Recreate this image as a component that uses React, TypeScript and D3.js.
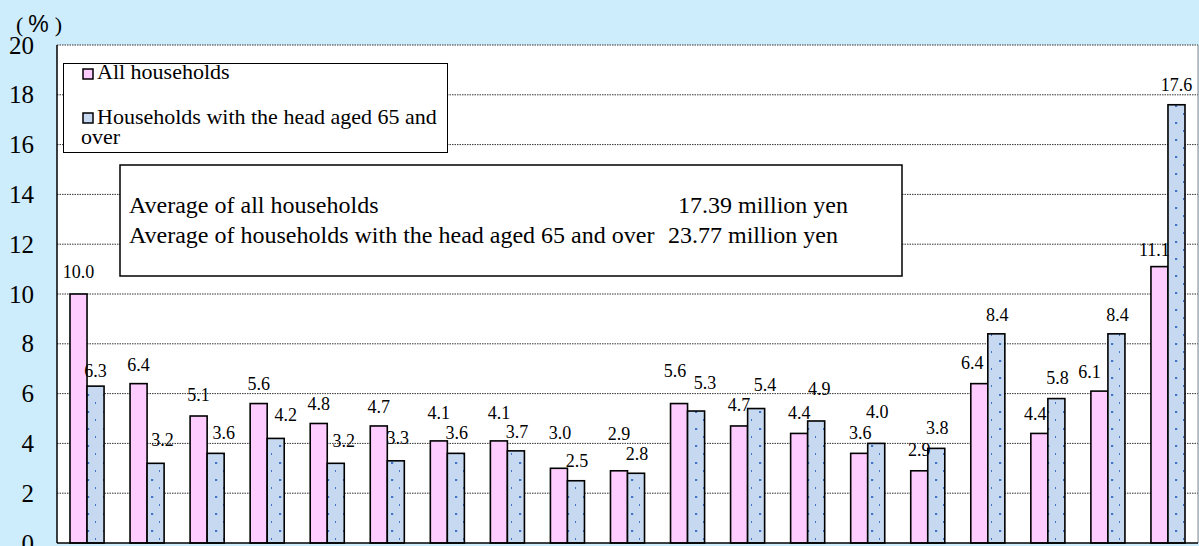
import React from "react";
import * as d3 from "d3";

// Savings classes (million yen)
const categories = [
  "<1", "1-2", "2-3", "3-4", "4-5", "5-6", "6-7", "7-8", "8-9", "9-10",
  "10-12", "12-14", "14-16", "16-18", "18-20", "20-25", "25-30", "30-40", "40+",
];
const seriesNames = ["All households", "Households with the head aged 65 and over"];
const allHouseholds = [10.0, 6.4, 5.1, 5.6, 4.8, 4.7, 4.1, 4.1, 3.0, 2.9, 5.6, 4.7, 4.4, 3.6, 2.9, 6.4, 4.4, 6.1, 11.1];
const elderlyHouseholds = [6.3, 3.2, 3.6, 4.2, 3.2, 3.3, 3.6, 3.7, 2.5, 2.8, 5.3, 5.4, 4.9, 4.0, 3.8, 8.4, 5.8, 8.4, 17.6];
const yTicks = [0, 2, 4, 6, 8, 10, 12, 14, 16, 18, 20];
const averageLines = [
  { text: "Average of all households", value: "17.39 million yen" },
  { text: "Average of households with the head aged 65 and over", value: "23.77 million yen" },
];

// hand-placed data label nudges: [dx, dy] of label centre from bar top centre
const allLabelNudge: [number, number][] = [
  [0, -22], [0, -19], [0, -21], [0, -20], [0, -19], [0, -19], [0, -28], [0, -28], [1, -35], [0, -37],
  [-4, -33], [0, -21], [0, -20], [1, -20], [0, -21], [-7, -21], [-4, -19], [-10, -19], [-5, -17],
];
const elderlyLabelNudge: [number, number][] = [
  [0, -15], [7, -23], [8, -20], [10, -23], [8, -22], [2, -23], [1, -20], [1, -19], [1, -20], [1, -19],
  [9, -28], [9, -24], [3, -32], [1, -31], [1, -20], [1, -19], [1, -21], [1, -19], [0, -20],
];

const W = 1199;
const H = 546;
const plot = { left: 57, right: 1198, top: 45, bottom: 543 };
const SERIF = "Liberation Serif, Tinos, DejaVu Serif, serif";
const SANS = "Liberation Sans, Arial, sans-serif";
const PINK = "#ffccff";
const BLUE = "#c6d9f1";

export default function App() {
  const x = d3.scaleBand<string>().domain(categories).range([plot.left, plot.right]).padding(0);
  const inner = d3
    .scaleBand<number>()
    .domain([0, 1])
    .range([13, x.bandwidth() - 13])
    .padding(0);
  const y = d3.scaleLinear().domain([0, 20]).range([plot.bottom, plot.top]);
  const bw = inner.bandwidth();

  const series = [
    { values: allHouseholds, fill: PINK, nudge: allLabelNudge },
    { values: elderlyHouseholds, fill: "url(#dots)", nudge: elderlyLabelNudge },
  ];

  const serif = { fontFamily: SERIF };

  return (
    <svg
      width={W}
      height={H}
      style={{ position: "absolute", left: 0, top: 0, display: "block", fontFamily: SERIF }}
    >
      <defs>
        <pattern id="dots" patternUnits="userSpaceOnUse" width={16} height={17} x={0} y={0}>
          <rect width={16} height={17} fill={BLUE} />
          <rect x={7} y={3} width={2.2} height={2} fill="#3f74c8" />
          <rect x={15} y={11} width={2.2} height={2} fill="#3f74c8" />
        </pattern>
      </defs>
      <rect x={0} y={0} width={W} height={H} fill="#cdedfd" />
      <rect
        x={plot.left}
        y={plot.top}
        width={plot.right - plot.left}
        height={plot.bottom - plot.top}
        fill="#ffffff"
      />

      {/* gridlines */}
      {yTicks
        .filter((t) => t > 0)
        .map((t) => (
          <line
            key={t}
            x1={plot.left}
            x2={plot.right}
            y1={y(t)}
            y2={y(t)}
            stroke="#333"
            strokeWidth={1}
            strokeDasharray="1.5,1"
          />
        ))}
      <line x1={plot.right} x2={plot.right} y1={plot.top} y2={plot.bottom} stroke="#888" strokeWidth={1} />

      {/* y tick labels */}
      {yTicks.map((t) => (
        <text key={t} x={34} y={y(t) + 8.5} textAnchor="end" style={serif} fontSize={25} fill="#000">
          {t}
        </text>
      ))}

      {/* unit label */}
      <text x={16} y={32} style={serif} fontSize={22}>
        (
        <tspan dx={5} style={{ fontFamily: SANS }} fontSize={23}>%</tspan>
        <tspan dx={6}>)</tspan>
      </text>

      {/* bars */}
      {series.map((s, si) =>
        categories.map((c, i) => {
          const bx = (x(c) as number) + (inner(si) as number);
          const top = y(s.values[i]);
          return (
            <rect
              key={`${si}-${i}`}
              x={bx}
              y={top}
              width={bw}
              height={plot.bottom - top}
              fill={s.fill}
              stroke="#000"
              strokeWidth={1.6}
            />
          );
        })
      )}

      {/* data labels */}
      {series.map((s, si) =>
        categories.map((c, i) => {
          const cx = (x(c) as number) + (inner(si) as number) + bw / 2 + s.nudge[i][0];
          const cy = y(s.values[i]) + s.nudge[i][1];
          return (
            <text
              key={`l${si}-${i}`}
              x={cx}
              y={cy + 6}
              textAnchor="middle"
              style={serif}
              fontSize={18}
              fill="#000"
            >
              {s.values[i].toFixed(1)}
            </text>
          );
        })
      )}

      {/* axes */}
      <line x1={plot.left} x2={plot.left} y1={plot.top} y2={plot.bottom} stroke="#000" strokeWidth={1.5} />
      <line x1={plot.left} x2={plot.right} y1={plot.bottom} y2={plot.bottom} stroke="#000" strokeWidth={1.5} />

      {/* legend */}
      <rect x={63.5} y={63.5} width={384} height={89} fill="#fff" stroke="#000" strokeWidth={1} />
      <rect x={83} y={69} width={10} height={10} fill={PINK} stroke="#000" strokeWidth={1.5} />
      <text x={97} y={79} style={serif} fontSize={22}>{seriesNames[0]}</text>
      <rect x={83} y={113} width={10} height={10} fill={BLUE} stroke="#000" strokeWidth={1.5} />
      <text x={97} y={124} style={serif} fontSize={22}>Households with the head aged 65 and</text>
      <text x={81} y={144} style={serif} fontSize={22}>over</text>

      {/* averages box */}
      <rect x={120} y={165} width={782} height={111} fill="#fff" stroke="#000" strokeWidth={1.5} />
      {averageLines.map((a, i) => (
        <g key={i}>
          <text x={129} y={213 + i * 30} style={serif} fontSize={24}>{a.text}</text>
          <text x={i === 0 ? 678 : 668} y={213 + i * 30} style={serif} fontSize={24}>{a.value}</text>
        </g>
      ))}
    </svg>
  );
}
